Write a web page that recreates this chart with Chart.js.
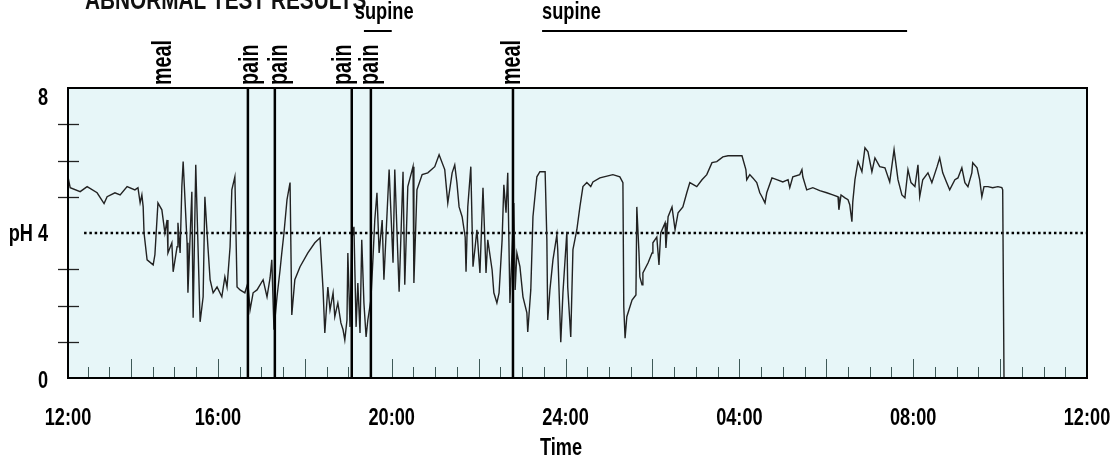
<!DOCTYPE html>
<html>
<head>
<meta charset="utf-8">
<script src="https://cdn.jsdelivr.net/npm/chart.js@4/dist/chart.umd.min.js"></script>
<style>
  html, body { margin: 0; padding: 0; background: #fff; }
  #wrap { width: 1115px; height: 460px; position: relative; }
</style>
</head>
<body>
<div id="wrap"><canvas id="grafico"></canvas></div>
<script>
// time of day in hours (24 = midnight, 36 = noon next day) and pH
const timeHours = [
  12.55, 12.60, 12.83, 12.99, 13.22, 13.38, 13.45, 13.63, 13.75, 13.91, 14.09, 14.16, 14.21, 14.25, 14.28, 14.30,
  14.37, 14.51, 14.55, 14.62, 14.71, 14.78, 14.83, 14.85, 14.94, 14.97, 15.06, 15.08, 15.13, 15.17, 15.20, 15.29,
  15.31, 15.40, 15.43, 15.49, 15.59, 15.66, 15.70, 15.77, 15.82, 15.89, 15.98, 16.09, 16.16, 16.21, 16.28, 16.32,
  16.39, 16.44, 16.51, 16.62, 16.69, 16.74, 16.81, 16.90, 17.04, 17.13, 17.20, 17.24, 17.29, 17.36, 17.43, 17.47,
  17.52, 17.59, 17.66, 17.70, 17.77, 17.89, 18.07, 18.23, 18.35, 18.42, 18.46, 18.53, 18.58, 18.65, 18.69, 18.76,
  18.83, 18.88, 18.92, 18.97, 18.99, 19.04, 19.08, 19.13, 19.18, 19.22, 19.27, 19.31, 19.36, 19.41, 19.45, 19.52,
  19.57, 19.61, 19.66, 19.71, 19.78, 19.82, 19.94, 20.03, 20.07, 20.17, 20.26, 20.30, 20.37, 20.49, 20.51, 20.58,
  20.70, 20.83, 20.99, 21.09, 21.22, 21.29, 21.39, 21.45, 21.50, 21.55, 21.62, 21.69, 21.71, 21.75, 21.82, 21.87,
  21.92, 21.96, 22.03, 22.10, 22.17, 22.21, 22.31, 22.35, 22.42, 22.47, 22.54, 22.58, 22.63, 22.67, 22.72, 22.77,
  22.81, 22.84, 22.88, 22.95, 23.02, 23.11, 23.13, 23.20, 23.25, 23.34, 23.41, 23.53, 23.57, 23.59, 23.64, 23.71,
  23.80, 23.82, 23.89, 23.94, 24.03, 24.05, 24.12, 24.17, 24.26, 24.33, 24.40, 24.49, 24.58, 24.63, 24.79, 25.09,
  25.25, 25.32, 25.34, 25.37, 25.41, 25.53, 25.62, 25.64, 25.69, 25.71, 25.76, 25.78, 25.90, 25.99, 26.01, 26.10,
  26.15, 26.19, 26.29, 26.31, 26.36, 26.45, 26.52, 26.59, 26.70, 26.79, 26.86, 27.02, 27.14, 27.25, 27.37, 27.48,
  27.62, 27.74, 28.06, 28.15, 28.17, 28.24, 28.31, 28.40, 28.47, 28.52, 28.59, 28.63, 28.75, 28.86, 29.00, 29.12,
  29.16, 29.23, 29.39, 29.44, 29.46, 29.55, 29.69, 29.85, 30.01, 30.15, 30.27, 30.29, 30.34, 30.43, 30.50, 30.54,
  30.59, 30.61, 30.66, 30.73, 30.82, 30.89, 30.96, 31.05, 31.12, 31.23, 31.35, 31.46, 31.56, 31.65, 31.74, 31.81,
  31.88, 31.95, 32.04, 32.11, 32.15, 32.22, 32.34, 32.43, 32.55, 32.61, 32.68, 32.77, 32.84, 32.96, 33.03, 33.12,
  33.19, 33.26, 33.35, 33.37, 33.47, 33.53, 33.58, 33.63, 33.72, 33.83, 33.95, 34.04, 34.06, 34.09
];
const phValues = [
  5.55, 5.25, 5.14, 5.28, 5.11, 4.81, 5.00, 5.11, 5.05, 5.28, 5.19, 5.25, 4.83, 5.05, 4.72, 4.00,
  3.26, 3.12, 3.40, 4.83, 4.64, 4.00, 4.36, 3.45, 3.73, 2.93, 3.62, 4.28, 3.45, 5.28, 5.97, 3.73,
  2.35, 5.14, 1.66, 5.88, 1.55, 2.24, 5.00, 3.62, 2.71, 2.35, 2.51, 2.24, 2.79, 2.51, 3.62, 5.19,
  5.55, 2.51, 2.43, 2.35, 2.62, 1.88, 2.35, 2.43, 2.71, 2.24, 2.76, 3.26, 1.33, 2.24, 2.98, 3.45,
  4.00, 4.92, 5.39, 1.74, 2.71, 3.07, 3.45, 3.73, 3.87, 2.43, 1.24, 2.51, 1.88, 2.35, 1.69, 2.07,
  1.52, 1.33, 1.05, 1.60, 3.45, 1.41, 3.81, 4.17, 1.41, 2.62, 1.24, 3.81, 2.07, 1.13, 1.60, 2.15,
  3.34, 4.36, 5.11, 3.45, 4.36, 2.71, 5.75, 3.18, 5.75, 2.38, 5.69, 2.57, 5.28, 5.83, 2.62, 5.19,
  5.61, 5.66, 5.83, 6.16, 5.75, 4.83, 5.66, 5.88, 5.39, 4.72, 4.45, 3.89, 2.93, 4.72, 5.83, 3.07,
  3.62, 4.09, 2.90, 5.25, 2.90, 3.81, 2.98, 2.35, 2.07, 2.35, 3.81, 5.33, 4.56, 5.66, 2.07, 3.54,
  4.83, 2.43, 3.45, 3.07, 2.24, 1.80, 1.27, 2.43, 4.45, 5.55, 5.69, 5.69, 3.81, 1.60, 2.43, 3.26,
  3.95, 3.54, 0.99, 2.35, 4.03, 2.51, 1.13, 3.54, 4.09, 4.72, 5.28, 5.39, 5.28, 5.41, 5.52, 5.61,
  5.55, 5.39, 1.96, 1.10, 1.69, 2.15, 2.29, 4.72, 3.45, 2.79, 2.57, 2.90, 3.18, 3.45, 3.73, 3.89,
  3.12, 4.00, 4.28, 3.59, 4.45, 4.72, 4.09, 4.56, 4.72, 5.11, 5.39, 5.28, 5.47, 5.61, 5.94, 5.97,
  6.10, 6.13, 6.13, 5.75, 5.47, 5.61, 5.52, 5.39, 5.11, 5.00, 4.83, 5.11, 5.52, 5.47, 5.41, 5.47,
  5.25, 5.55, 5.61, 5.75, 5.55, 5.19, 5.25, 5.17, 5.11, 5.05, 5.00, 4.64, 5.05, 4.97, 4.92, 4.78,
  4.31, 4.86, 5.47, 5.97, 5.69, 6.35, 6.24, 5.69, 6.07, 5.83, 5.80, 5.41, 6.30, 5.47, 5.05, 4.97,
  5.75, 5.39, 5.28, 5.88, 5.00, 5.47, 5.66, 5.39, 5.83, 6.07, 5.66, 5.39, 5.19, 5.47, 5.52, 5.80,
  5.39, 5.28, 5.66, 5.94, 5.80, 5.47, 5.00, 5.28, 5.28, 5.25, 5.28, 5.25, 5.19, 0.03
];

const xStart = 12.55;
const xEnd = 36;
const tickHours = [xStart, 16, 20, 24, 28, 32, 36];
const tickLabels = ['12:00', '16:00', '20:00', '24:00', '04:00', '08:00', '12:00'];
const phTicks = [8, 4, 0];
const phLabels = ['8', 'pH 4', '0'];

const thresholdPh = 4;
const thresholdFrom = 12.92;

// event markers (vertical lines) and their labels above the plot
const markerTimes = [16.69, 17.31, 19.08, 19.52, 22.79];
const eventNames = ['meal', 'pain', 'pain', 'pain', 'pain', 'meal'];
const eventTimes = [14.74, 16.76, 17.41, 18.88, 19.52, 22.77];

// supine periods
const supineStart = [19.36, 23.46];
const supineEnd = [20.00, 31.86];
const supineLabelAt = [19.15, 23.46];

const FONT = '"Liberation Sans", Arial, sans-serif';
const SQUEEZE = 0.79; // the original uses a condensed face

function squeezedText(ctx, text, x, y, align, sq) {
    ctx.save();
    ctx.translate(x, y);
    ctx.scale(sq || SQUEEZE, 1);
    ctx.textAlign = align;
    ctx.fillText(text, 0, 0);
    ctx.restore();
}

const extras = {
    id: 'extras',
    beforeDraw(chart) {
        const { ctx, chartArea: a } = chart;
        ctx.save();
        ctx.fillStyle = '#e7f6f8';
        ctx.fillRect(a.left, a.top, a.right - a.left, a.bottom - a.top);
        // title, cut off at the top of the picture
        ctx.fillStyle = '#111';
        ctx.font = 'bold 27px ' + FONT;
        ctx.textBaseline = 'alphabetic';
        squeezedText(ctx, 'ABNORMAL TEST RESULTS', 85, 9, 'left', 0.77);
        ctx.restore();
    },
    afterDatasetsDraw(chart) {
        const { ctx, chartArea: a } = chart;
        const xs = chart.scales.x, ys = chart.scales.y;
        ctx.save();

        // small time ticks inside the plot, every half hour
        ctx.strokeStyle = '#3f5a58';
        ctx.lineWidth = 1;
        for (let h = 13; h < xEnd; h += 0.5) {
            const px = Math.round(xs.getPixelForValue(h)) + 0.5;
            const len = (h % 2 === 0) ? 19 : 11;
            ctx.beginPath();
            ctx.moveTo(px, a.bottom);
            ctx.lineTo(px, a.bottom - len);
            ctx.stroke();
        }

        // pH ticks crossing the left border
        ctx.strokeStyle = '#222';
        ctx.lineWidth = 1.3;
        [1, 2, 3, 5, 6, 7].forEach(v => {
            const py = Math.round(ys.getPixelForValue(v)) + 0.5;
            ctx.beginPath();
            ctx.moveTo(a.left - 10, py);
            ctx.lineTo(a.left + 11, py);
            ctx.stroke();
        });

        // event lines
        ctx.strokeStyle = '#000';
        ctx.lineWidth = 2.5;
        markerTimes.forEach(t => {
            const px = xs.getPixelForValue(t);
            ctx.beginPath();
            ctx.moveTo(px, a.top);
            ctx.lineTo(px, a.bottom);
            ctx.stroke();
        });

        // frame
        ctx.lineWidth = 2;
        ctx.strokeRect(a.left, a.top, a.right - a.left, a.bottom - a.top);

        ctx.fillStyle = '#000';
        ctx.textBaseline = 'alphabetic';

        // axis labels
        ctx.font = 'bold 23px ' + FONT;
        tickHours.forEach((h, i) => {
            squeezedText(ctx, tickLabels[i], xs.getPixelForValue(h), 425, 'center');
        });
        phTicks.forEach((v, i) => {
            const py = ys.getPixelForValue(v);
            const dy = v === 8 ? 17 : (v === 0 ? 10 : 8);
            squeezedText(ctx, phLabels[i], a.left - 20, py + dy, 'right');
        });
        ctx.font = 'bold 23px ' + FONT;
        squeezedText(ctx, 'Time', 561, 455, 'center');

        // event labels, rotated
        ctx.font = 'bold 27px ' + FONT;
        ctx.textBaseline = 'middle';
        eventNames.forEach((name, i) => {
            ctx.save();
            ctx.translate(xs.getPixelForValue(eventTimes[i]), a.top - 3);
            ctx.rotate(-Math.PI / 2);
            ctx.scale(0.73, 1);
            ctx.textAlign = 'left';
            ctx.fillText(name, 0, 0);
            ctx.restore();
        });

        // supine bars
        ctx.font = 'bold 24px ' + FONT;
        ctx.textBaseline = 'alphabetic';
        ctx.lineWidth = 2;
        supineStart.forEach((s, i) => {
            squeezedText(ctx, 'supine', xs.getPixelForValue(supineLabelAt[i]), 19, 'left', 0.76);
            ctx.beginPath();
            ctx.moveTo(xs.getPixelForValue(s), 31);
            ctx.lineTo(xs.getPixelForValue(supineEnd[i]), 31);
            ctx.stroke();
        });
        ctx.restore();
    }
};

document.addEventListener('DOMContentLoaded', function() {
    const ctx = document.getElementById('grafico').getContext('2d');

    const data = {
        datasets: [
            {
                label: 'pH',
                data: timeHours.map((t, i) => ({ x: t, y: phValues[i] })),
                borderColor: '#222',
                borderWidth: 1.4,
                pointRadius: 0,
                tension: 0
            },
            {
                label: 'pH 4',
                data: [{ x: thresholdFrom, y: thresholdPh }, { x: xEnd, y: thresholdPh }],
                borderColor: '#000',
                borderWidth: 2.5,
                borderDash: [2.5, 2.8],
                pointRadius: 0
            }
        ]
    };

    const options = {
        responsive: true,
        maintainAspectRatio: false,
        animation: false,
        layout: { padding: { top: 88, right: 28, left: 0, bottom: 0 } },
        scales: {
            x: {
                type: 'linear',
                min: xStart,
                max: xEnd,
                afterFit: scale => { scale.height = 82; },
                grid: { display: false, drawTicks: false },
                border: { display: false },
                ticks: { display: false }
            },
            y: {
                min: 0,
                max: 8,
                afterFit: scale => { scale.width = 68; },
                grid: { display: false, drawTicks: false },
                border: { display: false },
                ticks: { display: false, stepSize: 1 }
            }
        },
        plugins: {
            legend: { display: false },
            tooltip: { enabled: false }
        }
    };

    new Chart(ctx, {
        type: 'line',
        data: data,
        options: options,
        plugins: [extras]
    });
});
</script>
</body>
</html>
